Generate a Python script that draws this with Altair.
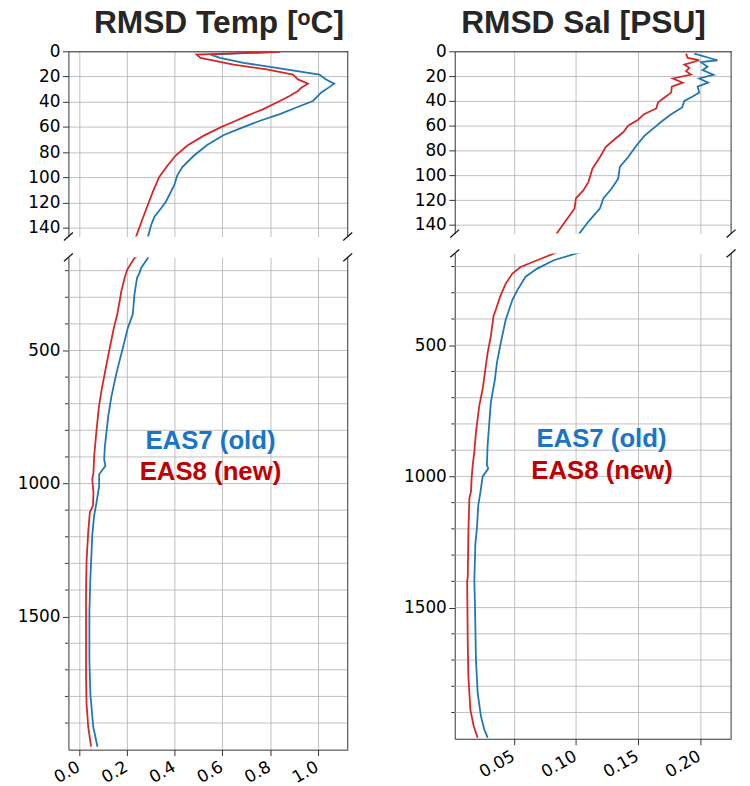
import altair as alt
import pandas as pd

# ---------------- data ----------------
temp_old_depth = [0.5, 2.6, 5.2, 9.2, 13.1, 18.4, 22.3, 25.7, 30.2, 32.8, 39.4, 44.6, 49.9,
                  55.1, 61.2, 66.4, 74.3, 82.7, 91.9, 98.4, 106.3, 119.4, 124.7, 131.2, 137.8,
                  147.8, 153, 190, 209, 227, 289, 364, 413, 488, 587, 674, 748, 860, 909, 934,
                  965, 1009, 1071, 1120, 1195, 1356, 1480, 1666, 1790, 1914, 1989]
temp_old = [0.82, 0.55, 0.59, 0.689, 0.827, 1.007, 1.035, 1.069, 1.035, 1.014, 0.980, 0.910,
            0.841, 0.758, 0.675, 0.606, 0.536, 0.481, 0.432, 0.411, 0.398, 0.363, 0.342, 0.315,
            0.301, 0.287, 0.287, 0.259, 0.252, 0.242, 0.231, 0.224, 0.204, 0.183, 0.155, 0.134,
            0.121, 0.107, 0.104, 0.109, 0.083, 0.083, 0.072, 0.062, 0.054, 0.046, 0.042, 0.042,
            0.046, 0.058, 0.076]

temp_new_depth = [0.5, 2.6, 5.2, 10.5, 14.4, 18.4, 22.3, 25.7, 28.9, 31.5, 35.4, 39.4, 45.9,
                  51.2, 55.9, 60.4, 66.9, 74.8, 82.7, 90.6, 99.7, 111.5, 122, 132.5, 147, 153,
                  196, 227, 277, 314, 364, 413, 488, 574, 649, 711, 798, 897, 959, 984, 1034,
                  1083, 1108, 1182, 1294, 1393, 1604, 1728, 1827, 1914, 1989]
temp_new = [0.841, 0.492, 0.508, 0.647, 0.786, 0.896, 0.917, 0.959, 0.931, 0.917, 0.882, 0.841,
            0.772, 0.702, 0.647, 0.592, 0.522, 0.453, 0.404, 0.370, 0.335, 0.308, 0.287, 0.266,
            0.238, 0.231, 0.201, 0.190, 0.176, 0.169, 0.159, 0.145, 0.128, 0.109, 0.093, 0.082,
            0.072, 0.062, 0.059, 0.054, 0.059, 0.057, 0.044, 0.037, 0.030, 0.028, 0.028, 0.028,
            0.030, 0.037, 0.049]

sal_old_depth = [1.9, 7.2, 8.8, 12.5, 15.2, 18.9, 21.9, 25.3, 28.5, 33.3, 36.5, 40, 45.3, 50.7,
                 56.8, 61.3, 68, 76, 85.3, 93.3, 102.7, 110.7, 118.7, 126.7, 137.3, 148.5, 176,
                 208, 239, 290, 327, 403, 491, 567, 630, 718, 882, 957, 970, 1001, 1064, 1108,
                 1196, 1259, 1398, 1511, 1700, 1826, 1914, 1965, 1996]
sal_old = [0.1953, 0.214, 0.2007, 0.206, 0.202, 0.2108, 0.1993, 0.2065, 0.198, 0.1993, 0.194,
           0.1873, 0.1855, 0.1767, 0.1687, 0.1633, 0.1553, 0.1487, 0.142, 0.1353, 0.134, 0.1287,
           0.122, 0.1193, 0.110, 0.1015, 0.082, 0.0687, 0.0593, 0.0527, 0.0487, 0.0433, 0.0393,
           0.0362, 0.0346, 0.0313, 0.0287, 0.0281, 0.0292, 0.0247, 0.0228, 0.0212, 0.0201,
           0.0188, 0.018, 0.0186, 0.0193, 0.0207, 0.0233, 0.026, 0.0287]

sal_new_depth = [1.9, 5.3, 7.2, 10.7, 13.3, 16, 18.7, 21.9, 25.3, 28.5, 33.3, 37.3, 41.3, 46.1,
                 50.7, 55.2, 60, 65.3, 70.7, 77.3, 85.3, 94.7, 105.3, 112, 118.7, 126.7, 137.3,
                 148.5, 176, 202, 227, 265, 315, 365, 390, 466, 529, 605, 667, 730, 831, 907,
                 957, 1007, 1058, 1083, 1209, 1385, 1398, 1637, 1763, 1889, 1952, 1996]
sal_new = [0.1887, 0.190, 0.1993, 0.1873, 0.1913, 0.1887, 0.1927, 0.178, 0.186, 0.1772, 0.1767,
           0.1713, 0.166, 0.1647, 0.1548, 0.150, 0.142, 0.138, 0.1313, 0.1239, 0.1193, 0.1132,
           0.110, 0.106, 0.0999, 0.0988, 0.0913, 0.0833, 0.0686, 0.0553, 0.0487, 0.0433, 0.0388,
           0.0353, 0.0334, 0.0313, 0.0287, 0.0265, 0.0247, 0.022, 0.0193, 0.018, 0.0167, 0.0158,
           0.0153, 0.014, 0.0132, 0.0127, 0.0122, 0.0127, 0.0132, 0.0148, 0.0175, 0.0207]

models = ["EAS7 (old)", "EAS8 (new)"]
titles = ["RMSD Temp [ᵒC]", "RMSD Sal [PSU]"]

temp_xticks = [0.0, 0.2, 0.4, 0.6, 0.8, 1.0]
sal_xticks = [0.05, 0.10, 0.15, 0.20]
top_yticks = [0, 20, 40, 60, 80, 100, 120, 140]
bottom_major = [500, 1000, 1500]
bottom_minor = [200, 300, 400, 600, 700, 800, 900, 1100, 1200, 1300, 1400,
                1600, 1700, 1800, 1900]

temp_label_x = [0.550, 0.550]
temp_label_depth = [871, 988]
sal_label_x = [0.1205, 0.121]
sal_label_depth = [888, 1010]

# ---------------- styling ----------------
LINE_COLORS = ["#1f77b4", "#d62728"]
TEXT_COLORS = ["#1a75c8", "#c00000"]
SPINE = "#333333"
GRID = "#b0b0b0"
TICK_FONT = "DejaVu Sans"


def frame(a_depth, a_val, b_depth, b_val):
    rows = []
    for d, v in zip(a_depth, a_val):
        rows.append({"model": models[0], "depth": d, "value": v})
    for d, v in zip(b_depth, b_val):
        rows.append({"model": models[1], "depth": d, "value": v})
    return pd.DataFrame(rows)


one = pd.DataFrame({"k": [0]})
minor_df = pd.DataFrame({"d": bottom_minor})
grid_df = pd.DataFrame({"d": sorted(bottom_minor + bottom_major)})


def vrule(x, y, y2):
    return alt.Chart(one).mark_rule(color=SPINE, strokeWidth=1).encode(
        x=alt.value(x), y=alt.value(y), y2=alt.value(y2))


def brk(x, y):
    return alt.Chart(one).mark_rule(color="#111111", strokeWidth=1.3).encode(
        x=alt.value(x - 4.5), x2=alt.value(x + 4.5), y=alt.value(y + 4), y2=alt.value(y - 4))


def column(df, xdom, xticks, xfmt, W, Ht, Hb, gap, title, tdx, lab_x, lab_d):
    color = alt.Color("model:N", scale=alt.Scale(domain=models, range=LINE_COLORS), legend=None)
    xscale = alt.Scale(domain=xdom, nice=False, zero=False)
    # top panel
    top_lines = alt.Chart(df).mark_line(clip=True, strokeWidth=1.8).encode(
        x=alt.X("value:Q", scale=xscale,
                axis=alt.Axis(orient="top", values=xticks, labels=False, ticks=False,
                              domain=True, domainColor=SPINE, domainWidth=1,
                              grid=True, gridColor=GRID, gridWidth=0.8, title=None)),
        y=alt.Y("depth:Q", scale=alt.Scale(domain=[0, 147], reverse=True, nice=False, zero=False),
                axis=alt.Axis(values=top_yticks, format="d", labelFont=TICK_FONT,
                              labelFontSize=17, labelColor="black", tickSize=6,
                              tickColor=SPINE, labelPadding=2.5, domainColor=SPINE,
                              domainWidth=1, grid=True, gridColor=GRID, gridWidth=0.8,
                              title=None)),
        color=color,
        order=alt.Order("depth:Q"),
    )
    title_mark = alt.Chart(pd.DataFrame({"t": [title]})).mark_text(
        font="Liberation Sans", fontSize=32, fontWeight="bold", color="#262626",
        align="center", baseline="alphabetic").encode(
        text="t:N", x=alt.value(W / 2 + tdx), y=alt.value(-18))
    top = alt.layer(top_lines, vrule(W, 0, Ht), brk(0, Ht), brk(W, Ht),
                    title_mark).properties(width=W, height=Ht)
    # bottom panel
    yscale = alt.Scale(domain=[150, 2000], reverse=True, nice=False, zero=False)
    grid_rules = alt.Chart(grid_df).mark_rule(color=GRID, strokeWidth=0.8).encode(
        y=alt.Y("d:Q", scale=yscale), x=alt.value(0), x2=alt.value(W))
    minor_ticks = alt.Chart(minor_df).mark_rule(color=SPINE, strokeWidth=1).encode(
        y=alt.Y("d:Q", scale=yscale), x=alt.value(-3.5), x2=alt.value(0))
    bot_lines = alt.Chart(df).mark_line(clip=True, strokeWidth=1.8).encode(
        x=alt.X("value:Q", scale=xscale,
                axis=alt.Axis(values=xticks, format=xfmt, labelFont=TICK_FONT,
                              labelFontSize=17, labelColor="black", labelAngle=-30,
                              labelAlign="right", labelBaseline="top", labelOffset=-5,
                              labelPadding=3, tickSize=6, tickColor=SPINE,
                              domainColor=SPINE, domainWidth=1, grid=True, gridColor=GRID,
                              gridWidth=0.8, title=None, labelOverlap=False)),
        y=alt.Y("depth:Q", scale=yscale,
                axis=alt.Axis(values=bottom_major, format="d",
                              labelFont=TICK_FONT, labelFontSize=17, labelColor="black",
                              tickSize=6, tickColor=SPINE, labelPadding=2.5,
                              domainColor=SPINE, domainWidth=1, grid=False,
                              title=None, labelOverlap=False)),
        color=color,
        order=alt.Order("depth:Q"),
    )
    lab = pd.DataFrame({"txt": models, "lx": lab_x, "ly": lab_d})
    texts = []
    for name, col in zip(models, TEXT_COLORS):
        texts.append(alt.Chart(lab).transform_filter(alt.datum.txt == name).mark_text(
            font="Liberation Sans", fontWeight="bold", fontSize=26, align="center",
            baseline="alphabetic", color=col).encode(x="lx:Q", y="ly:Q", text="txt:N"))
    bot = alt.layer(grid_rules, minor_ticks, bot_lines, *texts, vrule(W, 0, Hb),
                    brk(0, 0), brk(W, 0)).properties(width=W, height=Hb)
    return alt.vconcat(top, bot, spacing=gap)


left = column(frame(temp_old_depth, temp_old, temp_new_depth, temp_new),
              [-0.046, 1.126], temp_xticks, ".1f", 282, 187, 497, 11, titles[0], 11,
              temp_label_x, temp_label_depth)
right = column(frame(sal_old_depth, sal_old, sal_new_depth, sal_new),
               [0.0022, 0.225], sal_xticks, ".2f", 279, 184, 490, 10, titles[1], -9.5,
               sal_label_x, sal_label_depth)

chart = alt.hconcat(left, right, spacing=50).configure_view(
    stroke=None).properties(padding={"left": 9, "top": -4, "right": 5, "bottom": 0},
                            background="white")

chart.save("out.html", embed_options={"renderer": "svg", "actions": False})
